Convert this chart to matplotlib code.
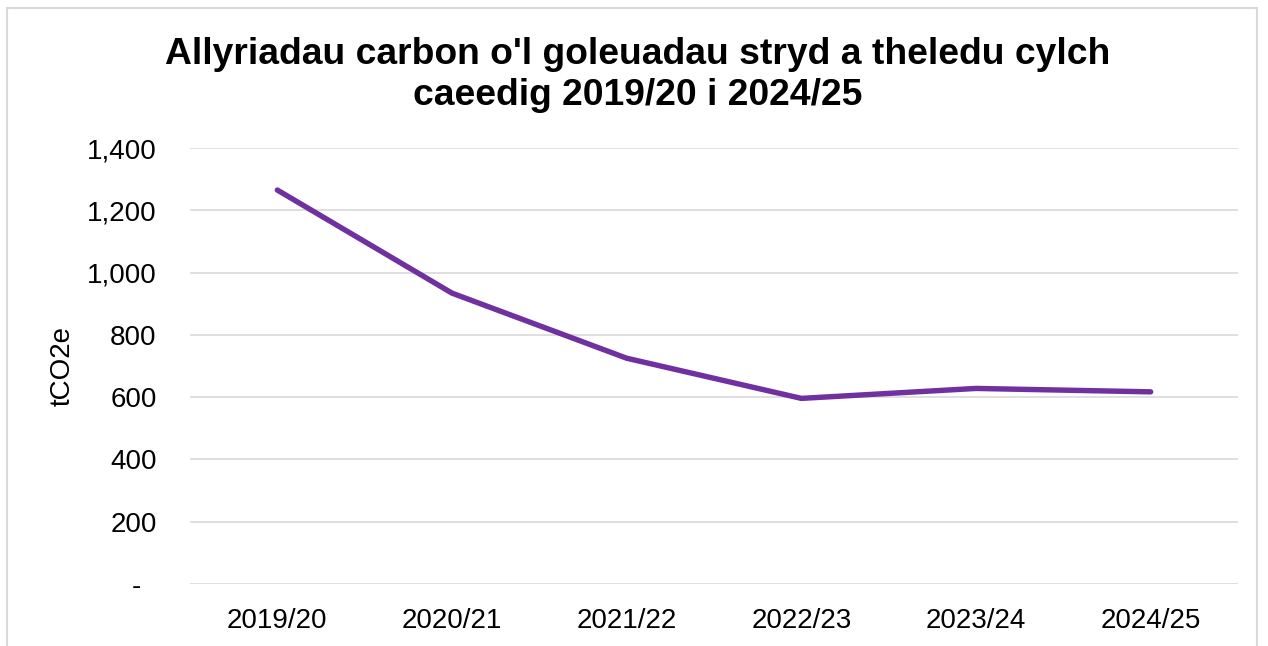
import matplotlib
matplotlib.use("Agg")
import matplotlib.pyplot as plt
from matplotlib.patches import Rectangle

plt.rcParams['font.family'] = ['Liberation Sans', 'DejaVu Sans']

# data
years = ["2019/20", "2020/21", "2021/22", "2022/23", "2023/24", "2024/25"]
emissions = [1265, 934, 725, 596, 628, 617]
yticks = [0, 200, 400, 600, 800, 1000, 1200, 1400]
ytick_labels = ["-  ", "200", "400", "600", "800", "1,000", "1,200", "1,400"]

fig = plt.figure(figsize=(12.68, 6.46), dpi=100)
ax = fig.add_axes([190 / 1268, 1 - 584 / 646, 1048 / 1268, 436 / 646])

x = range(len(years))
ax.plot(x, emissions, color="#7030A0", linewidth=3.9, solid_capstyle="round")

ax.set_xlim(-0.5, len(years) - 0.5)
ax.set_ylim(0, 1400)
ax.set_yticks(yticks)
ax.set_yticklabels(ytick_labels)
ax.set_xticks(list(x))
ax.set_xticklabels(years)
ax.tick_params(axis="both", length=0, labelsize=20)
ax.tick_params(axis="y", pad=24)
ax.tick_params(axis="x", pad=17)
ax.grid(axis="y", color="#D9D9D9", linewidth=1.2)
ax.set_axisbelow(True)
for s in ax.spines.values():
    s.set_visible(False)

ax.set_ylabel("tCO2e", fontsize=20, labelpad=8)

fig.text(0.503, 1 - 75 / 646,
         "Allyriadau carbon o'l goleuadau stryd a theledu cylch\ncaeedig 2019/20 i 2024/25",
         ha="center", va="center", fontsize=26.8, fontweight="bold", linespacing=1.2)

# light outer chart border
fig.patches.append(Rectangle((7 / 1268, -0.05), 1250 / 1268, 1.05 - 8 / 646,
                             transform=fig.transFigure, fill=False,
                             edgecolor="#D9D9D9", linewidth=1.5))

fig.savefig("out.png", dpi=100)
